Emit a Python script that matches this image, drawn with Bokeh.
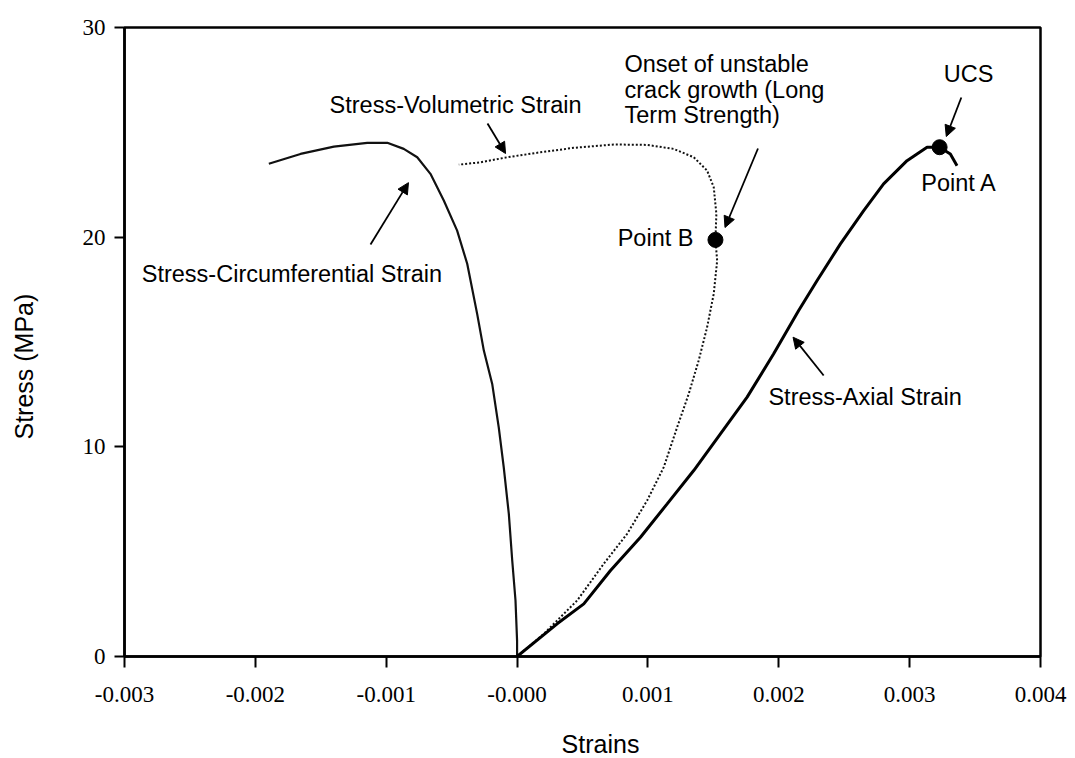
from math import pi

from bokeh.core.properties import value
from bokeh.embed import file_html
from bokeh.layouts import column, row
from bokeh.models import Arrow, ColumnDataSource, FixedTicker, NormalHead, Range1d
from bokeh.plotting import figure
from bokeh.resources import INLINE

# ---- measured curves: strain (-) against stress (MPa) ----
axial_strain = [0.0, 0.306e-3, 0.510e-3, 0.714e-3, 0.943e-3, 1.147e-3, 1.350e-3, 1.554e-3,
                1.758e-3, 1.961e-3, 2.152e-3, 2.293e-3, 2.471e-3, 2.649e-3, 2.801e-3,
                2.980e-3, 3.133e-3, 3.229e-3, 3.311e-3, 3.362e-3]
axial_stress = [0.0, 1.56, 2.51, 4.10, 5.69, 7.28, 8.87, 10.62,
                12.37, 14.44, 16.50, 17.93, 19.68, 21.27, 22.54,
                23.65, 24.29, 24.29, 23.97, 23.41]

circ_strain = [0.0, 0.0, -0.012e-3, -0.037e-3, -0.063e-3, -0.102e-3, -0.140e-3, -0.190e-3,
               -0.254e-3, -0.305e-3, -0.381e-3, -0.458e-3, -0.560e-3, -0.662e-3, -0.763e-3,
               -0.866e-3, -0.992e-3, -1.145e-3, -1.400e-3, -1.655e-3, -1.897e-3]
circ_stress = [0.0, 0.76, 2.67, 4.58, 6.80, 9.03, 10.93, 13.00,
               14.59, 16.34, 18.73, 20.31, 21.75, 23.02, 23.81,
               24.21, 24.50, 24.50, 24.32, 23.97, 23.50]

vol_strain = [0.0, 0.026e-3, 0.204e-3, 0.459e-3, 0.662e-3, 0.841e-3, 0.994e-3, 1.121e-3,
              1.223e-3, 1.312e-3, 1.388e-3, 1.452e-3, 1.503e-3, 1.529e-3, 1.516e-3,
              1.523e-3, 1.503e-3, 1.452e-3, 1.350e-3, 1.197e-3, 0.994e-3, 0.739e-3,
              0.433e-3, 0.179e-3, -0.076e-3, -0.280e-3, -0.445e-3]
vol_stress = [0.0, 0.13, 1.08, 2.67, 4.42, 5.85, 7.44, 9.03,
              10.93, 12.53, 14.12, 15.70, 17.30, 18.88, 19.87,
              21.11, 22.38, 23.18, 23.81, 24.21, 24.40, 24.42,
              24.26, 24.05, 23.81, 23.57, 23.46]

# ---- marked points ----
point_names = ["Point A", "Point B"]
point_strain = [3.229e-3, 1.516e-3]
point_stress = [24.29, 19.87]

# ---- axis ticks ----
x_ticks = [-0.003, -0.002, -0.001, 0.0, 0.001, 0.002, 0.003, 0.004]
x_tick_labels = ["-0.003", "-0.002", "-0.001", "-0.000", "0.001", "0.002", "0.003", "0.004"]
y_ticks = [0, 10, 20, 30]

# ---- annotation texts ----
note_text = ["Stress-Volumetric Strain", "Stress-Circumferential Strain",
             "Onset of unstable", "crack growth (Long", "Term Strength)",
             "Point B", "UCS", "Point A", "Stress-Axial Strain"]
note_x = [-1.433e-3, -2.868e-3, 0.821e-3, 0.821e-3, 0.821e-3,
          1.348e-3, 3.261e-3, 3.089e-3, 1.921e-3]
note_y = [26.28, 18.22, 28.28, 27.04, 25.85, 19.98, 27.80, 22.56, 12.40]
note_align = ["left", "left", "left", "left", "left", "right", "left", "left", "left"]

# arrows: tail -> head
arrow_x0 = [-0.226e-3, -1.120e-3, 1.841e-3, 3.395e-3, 2.343e-3]
arrow_y0 = [25.42, 19.65, 24.23, 26.66, 13.40]
arrow_x1 = [-0.088e-3, -0.830e-3, 1.589e-3, 3.280e-3, 2.109e-3]
arrow_y1 = [23.99, 22.60, 20.46, 24.80, 15.23]

x_title = "Strains"
y_title = "Stress (MPa)"

SANS = "Liberation Sans"
SERIF = "Liberation Serif"

# layout sizes (px)
TITLE_W = 44          # strip holding the vertical axis title
TITLE_H = 42          # strip holding the horizontal axis title
TOP, BOTTOM = 27, 60
FRAME_W, FRAME_H = 916, 629
LEFT = 124 - TITLE_W
RIGHT = 35
PLOT_H = TOP + FRAME_H + BOTTOM

p = figure(frame_width=FRAME_W, frame_height=FRAME_H,
           min_border_left=LEFT, min_border_right=RIGHT,
           min_border_top=TOP, min_border_bottom=BOTTOM,
           x_range=Range1d(-0.003, 0.004), y_range=Range1d(0, 30),
           output_backend="svg", toolbar_location=None,
           background_fill_color="white", border_fill_color="white")

p.grid.visible = False
p.outline_line_color = "black"
p.outline_line_width = 2.5

for ax in (p.xaxis[0], p.yaxis[0]):
    ax.axis_line_width = 2.5
    ax.axis_line_color = "black"
    ax.major_tick_line_width = 2
    ax.major_tick_line_color = "black"
    ax.major_tick_in = 0
    ax.minor_tick_in = 0
    ax.minor_tick_out = 0
    ax.major_label_text_font = SERIF
    ax.major_label_text_font_size = "23px"
    ax.major_label_text_color = "black"

p.xaxis.ticker = FixedTicker(ticks=x_ticks)
p.xaxis.major_label_overrides = dict(zip(x_ticks, x_tick_labels))
p.xaxis.major_tick_out = 11
p.xaxis.major_label_standoff = 19

p.yaxis.ticker = FixedTicker(ticks=y_ticks)
p.yaxis.major_tick_out = 10
p.yaxis.major_label_standoff = 9

# curves
p.line(vol_strain, vol_stress, line_color="#111111", line_width=2, line_dash="2 2")
p.line(circ_strain, circ_stress, line_color="#111111", line_width=2.2)
p.line(axial_strain, axial_stress, line_color="black", line_width=3)

p.scatter(point_strain, point_stress, size=15, fill_color="black", line_color="black")

notes = ColumnDataSource(dict(x=note_x, y=note_y, text=note_text, align=note_align))
p.text(x="x", y="y", text="text", source=notes, text_align="align",
       text_baseline="middle", text_font=value(SANS), text_font_size="23.5px",
       text_color="black")

for x0, y0, x1, y1 in zip(arrow_x0, arrow_y0, arrow_x1, arrow_y1):
    p.add_layout(Arrow(x_start=x0, y_start=y0, x_end=x1, y_end=y1,
                       line_color="black", line_width=1.8,
                       end=NormalHead(size=11, fill_color="black", line_color="black")))


def title_strip(width, height):
    f = figure(width=width, height=height, x_range=Range1d(0, width),
               y_range=Range1d(0, height), min_border=0,
               x_axis_location=None, y_axis_location=None,
               output_backend="svg", toolbar_location=None,
               background_fill_color="white", border_fill_color="white")
    f.grid.visible = False
    f.outline_line_color = None
    return f


# vertical axis title (pixel coordinates inside its strip)
ystrip = title_strip(TITLE_W, PLOT_H)
ystrip.text(x=[23], y=[PLOT_H - 386], text=[y_title], angle=pi / 2,
            text_align="center", text_baseline="middle",
            text_font=value(SANS), text_font_size="25px", text_color="black")

# horizontal axis title
xstrip = title_strip(TITLE_W + LEFT + FRAME_W + RIGHT, TITLE_H)
xstrip.text(x=[600], y=[TITLE_H - (743 - PLOT_H)], text=[x_title],
            text_align="center", text_baseline="middle",
            text_font=value(SANS), text_font_size="25px", text_color="black")

layout = column(row(ystrip, p, spacing=0), xstrip, spacing=0)

open("out.html", "w").write(file_html(layout, INLINE))
